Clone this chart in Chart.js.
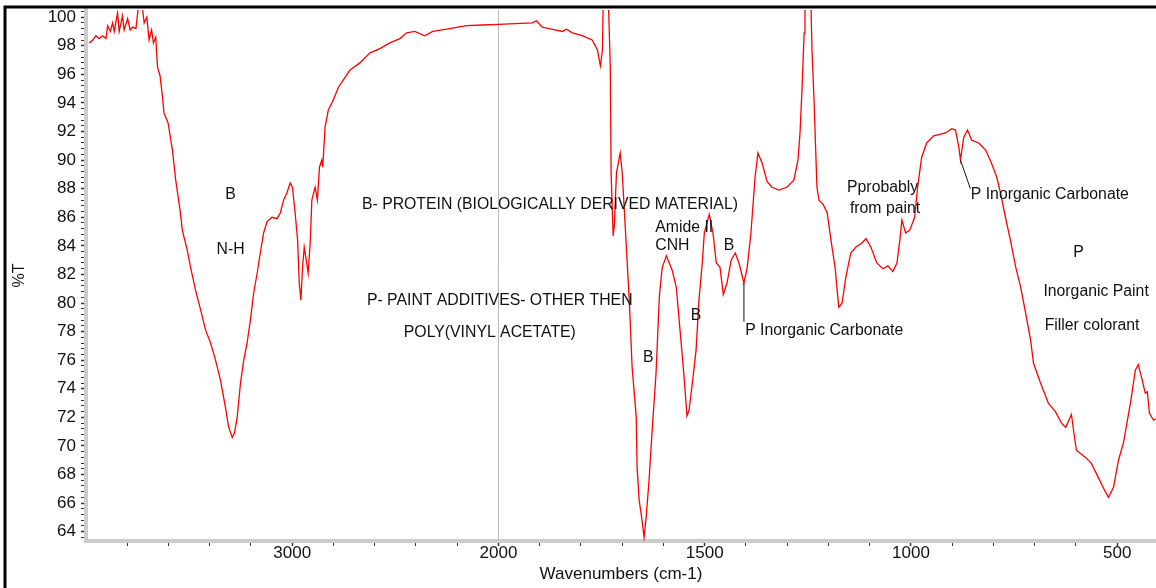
<!DOCTYPE html>
<html>
<head>
<meta charset="utf-8">
<script src="https://cdn.jsdelivr.net/npm/chart.js@4"></script>
<style>
  html, body { margin: 0; padding: 0; background: #fff; }
  #wrap { width: 1156px; height: 588px; }
</style>
</head>
<body>
<div id="wrap"><canvas id="spectrum" width="1156" height="588"></canvas></div>
<script>
// Spectrum (cm-1, %T)
const wavenumbers = [
  3984, 3967, 3952, 3936, 3919, 3903, 3895, 3882, 3871, 3863, 3847, 3839, 3823, 3815, 3798, 3786,
  3774, 3758, 3747, 3726, 3718, 3705, 3694, 3682, 3673, 3662, 3653, 3641, 3629, 3622, 3602, 3581,
  3565, 3544, 3533, 3509, 3493, 3469, 3444, 3420, 3396, 3372, 3348, 3324, 3308, 3291, 3280, 3267,
  3251, 3235, 3219, 3203, 3187, 3170, 3155, 3139, 3122, 3098, 3074, 3058, 3042, 3026, 3010, 2999,
  2986, 2974, 2966, 2958, 2950, 2942, 2932, 2923, 2913, 2905, 2889, 2878, 2868, 2857, 2852, 2841,
  2825, 2801, 2776, 2720, 2672, 2623, 2575, 2527, 2478, 2445, 2406, 2358, 2319, 2237, 2155, 2077,
  2000, 1918, 1908, 1894, 1869, 1845, 1835, 1821, 1797, 1773, 1760, 1753, 1748, 1746, 1734, 1729,
  1727, 1722, 1719, 1714, 1705, 1700, 1690, 1683, 1676, 1666, 1664, 1659, 1652, 1647, 1642, 1635,
  1627, 1618, 1610, 1603, 1593, 1579, 1569, 1562, 1552, 1543, 1538, 1530, 1521, 1514, 1506, 1501,
  1489, 1480, 1472, 1463, 1455, 1446, 1436, 1426, 1417, 1405, 1397, 1388, 1378, 1371, 1361, 1349,
  1337, 1320, 1301, 1284, 1274, 1269, 1264, 1259, 1257, 1243, 1240, 1235, 1231, 1228, 1223, 1213,
  1203, 1194, 1184, 1179, 1175, 1167, 1158, 1146, 1134, 1119, 1109, 1097, 1083, 1068, 1056, 1044,
  1034, 1027, 1022, 1013, 1003, 991, 984, 974, 962, 945, 916, 901, 892, 884, 880, 872,
  863, 853, 836, 819, 805, 792, 783, 771, 759, 746, 734, 722, 710, 703, 686, 667,
  650, 635, 625, 611, 606, 599, 577, 563, 546, 529, 521, 509, 497, 485, 468, 456,
  449, 441, 432, 427, 422, 412, 406
];
const transmittance = [
  98.2, 98.4, 98.7, 98.5, 98.7, 98.5, 99.4, 99.0, 99.6, 99.0, 100.3, 99.0, 100.1, 99.1, 99.9, 99.1,
  99.3, 99.2, 100.6, 100.6, 99.6, 100.0, 98.4, 99.1, 98.2, 98.6, 96.5, 95.9, 94.4, 93.3, 92.6, 90.7,
  88.6, 86.5, 85.1, 83.7, 82.5, 80.9, 79.5, 78.1, 77.2, 76.0, 74.6, 72.7, 71.3, 70.6, 70.9, 72.0,
  74.4, 76.0, 77.2, 78.8, 80.7, 82.1, 83.5, 84.9, 85.7, 86.0, 85.9, 86.3, 87.2, 87.7, 88.4, 88.1,
  86.3, 84.4, 81.4, 80.2, 82.5, 83.9, 83.0, 82.1, 84.2, 87.2, 88.1, 87.2, 89.5, 90.0, 89.5, 92.3,
  93.5, 94.2, 95.1, 96.3, 96.8, 97.5, 97.8, 98.2, 98.5, 98.9, 99.0, 98.7, 99.0, 99.2, 99.4, 99.45,
  99.5, 99.6, 99.75, 99.3, 99.15, 99.0, 99.15, 98.9, 98.7, 98.4, 97.7, 96.6, 97.7, 101.5, 101.5, 96.6,
  89.1, 84.7, 85.5, 89.1, 90.5, 89.1, 83.9, 80.2, 75.5, 72.0, 68.5, 66.2, 64.8, 63.6, 65.0, 67.6,
  71.3, 75.1, 80.5, 82.5, 83.3, 82.3, 81.1, 78.8, 75.5, 72.1, 72.5, 74.4, 76.7, 80.2, 82.8, 84.9,
  86.2, 84.9, 82.8, 82.5, 80.6, 81.4, 83.0, 83.5, 82.8, 81.4, 82.5, 84.9, 88.8, 90.5, 89.8, 88.5,
  88.1, 87.9, 88.1, 88.6, 90.0, 91.9, 95.1, 98.9, 101.5, 101.5, 97.7, 94.2, 90.7, 88.1, 87.2, 86.9,
  86.3, 84.4, 82.5, 80.9, 79.7, 80.0, 81.8, 83.5, 83.9, 84.2, 84.5, 83.9, 82.8, 82.4, 82.6, 82.2,
  82.8, 84.4, 85.8, 84.9, 85.1, 86.0, 88.1, 90.2, 91.2, 91.7, 91.9, 92.2, 92.1, 90.9, 90.0, 91.6,
  92.1, 91.4, 91.2, 90.7, 89.8, 88.8, 87.7, 86.0, 84.4, 82.5, 81.1, 79.3, 77.4, 75.8, 74.4, 73.0,
  72.4, 71.6, 71.3, 72.2, 71.1, 69.7, 69.2, 68.8, 67.8, 66.8, 66.4, 67.1, 69.0, 70.2, 73.0, 75.3,
  75.7, 74.8, 73.7, 73.8, 72.3, 71.8, 71.9
];

// axis ticks
const xMajorTicks = [3000, 2000, 1500, 1000, 500];
const xMinorTicks = [3800, 3600, 3400, 3200, 2800, 2600, 2400, 2200,
  1900, 1800, 1700, 1600, 1400, 1300, 1200, 1100, 900, 800, 700, 600];
const yMajorTicks = [64, 66, 68, 70, 72, 74, 76, 78, 80, 82, 84, 86, 88, 90, 92, 94, 96, 98, 100];

// the instrument plot halves the scale above 2000 cm-1
const toAxis = w => (w > 2000 ? 2000 + (w - 2000) / 2 : w);
const fromAxis = u => (u > 2000 ? 2000 + (u - 2000) * 2 : u);

const notes = [
  { text: 'B', w: 3299, t: 87.55, align: 'center' },
  { text: 'N-H', w: 3299, t: 83.7, align: 'center' },
  { text: 'B- PROTEIN (BIOLOGICALLY DERIVED MATERIAL)', w: 2662, t: 86.85, align: 'left' },
  { text: 'P- PAINT ADDITIVES- OTHER THEN', w: 2638, t: 80.2, align: 'left' },
  { text: 'POLY(VINYL ACETATE)', w: 2459, t: 77.9, align: 'left' },
  { text: 'Amide II', w: 1620, t: 85.25, align: 'left' },
  { text: 'CNH', w: 1620, t: 84.0, align: 'left' },
  { text: 'B', w: 1441, t: 84.0, align: 'center' },
  { text: 'B', w: 1521, t: 79.1, align: 'center' },
  { text: 'B', w: 1637, t: 76.2, align: 'center' },
  { text: 'P Inorganic Carbonate', w: 1402, t: 78.1, align: 'left' },
  { text: 'Pprobably', w: 1155, t: 88.1, align: 'left' },
  { text: 'from paint', w: 1148, t: 86.6, align: 'left' },
  { text: 'P Inorganic Carbonate', w: 855, t: 87.55, align: 'left' },
  { text: 'P', w: 594, t: 83.5, align: 'center' },
  { text: 'Inorganic Paint', w: 679, t: 80.8, align: 'left' },
  { text: 'Filler colorant', w: 676, t: 78.4, align: 'left' }
];
const leaders = [
  { w1: 1405, t1: 81.4, w2: 1405, t2: 78.7 },
  { w1: 880, t1: 90.0, w2: 856, t2: 88.0 }
];

const FONT = '"Liberation Sans", Arial, sans-serif';
Chart.defaults.font.family = FONT;
Chart.defaults.color = '#111';

const notesPlugin = {
  id: 'notes',
  afterDatasetsDraw(chart) {
    const { ctx, scales: { x, y } } = chart;
    ctx.save();
    ctx.fillStyle = '#111';
    ctx.font = '15.8px ' + FONT;
    ctx.textBaseline = 'middle';
    notes.forEach(n => {
      ctx.textAlign = n.align;
      ctx.fillText(n.text, x.getPixelForValue(toAxis(n.w)), y.getPixelForValue(n.t));
    });
    ctx.strokeStyle = '#111';
    ctx.lineWidth = 1;
    leaders.forEach(l => {
      ctx.beginPath();
      ctx.moveTo(x.getPixelForValue(toAxis(l.w1)), y.getPixelForValue(l.t1));
      ctx.lineTo(x.getPixelForValue(toAxis(l.w2)), y.getPixelForValue(l.t2));
      ctx.stroke();
    });
    ctx.restore();
  },
  afterDraw(chart) {
    // outer frame of the original figure
    const ctx = chart.ctx;
    ctx.save();
    ctx.strokeStyle = '#000';
    ctx.lineWidth = 3;
    ctx.beginPath();
    ctx.moveTo(5, 588);
    ctx.lineTo(5, 7);
    ctx.lineTo(1156, 7);
    ctx.stroke();
    ctx.restore();
  }
};

const points = wavenumbers.map((w, i) => ({ x: toAxis(w), y: transmittance[i] }));

const yMin = 63.35, yMax = 100.5;

new Chart(document.getElementById('spectrum'), {
  type: 'line',
  data: {
    datasets: [{
      data: points,
      borderColor: '#ff0000',
      borderWidth: 1.3,
      pointRadius: 0,
      tension: 0,
      order: 1
    }, {
      data: [{ x: 2000, y: yMin }, { x: 2000, y: yMax }],
      borderColor: '#b8b8b8',
      borderWidth: 1,
      pointRadius: 0,
      order: 2
    }]
  },
  options: {
    responsive: false,
    animation: false,
    layout: { padding: { top: 10, right: 0, left: 0, bottom: 0 } },
    plugins: { legend: { display: false }, tooltip: { enabled: false } },
    scales: {
      x: {
        type: 'linear',
        reverse: true,
        min: toAxis(406),
        max: toAxis(4000),
        afterBuildTicks: scale => {
          scale.ticks = xMajorTicks.concat(xMinorTicks).map(w => ({ value: toAxis(w) }));
        },
        afterFit: scale => {
          scale.height = 47;
          scale.paddingLeft = 0;
          scale.paddingRight = 0;
        },
        ticks: {
          autoSkip: false,
          maxRotation: 0,
          padding: -3,
          font: { size: 17 },
          callback: v => {
            const w = Math.round(fromAxis(v));
            return xMajorTicks.includes(w) ? String(w) : '';
          }
        },
        grid: {
          drawOnChartArea: false,
          tickLength: 5,
          tickColor: '#333',
          tickWidth: ctx => (xMajorTicks.includes(Math.round(fromAxis(ctx.tick.value))) ? 1.5 : 1)
        },
        border: { display: true, color: '#cccccc', width: 4 },
        title: {
          display: true,
          text: 'Wavenumbers (cm-1)',
          font: { size: 17 },
          padding: { top: 0, bottom: 3 }
        }
      },
      y: {
        min: yMin,
        max: yMax,
        afterBuildTicks: scale => {
          const t = [];
          for (let i = 0; i <= 92; i++) t.push({ value: Math.round((63.6 + i * 0.4) * 10) / 10 });
          scale.ticks = t;
        },
        afterFit: scale => {
          scale.width = 86;
          scale.paddingTop = 0;
          scale.paddingBottom = 0;
        },
        ticks: {
          autoSkip: false,
          padding: 5,
          font: { size: 17 },
          callback: v => (yMajorTicks.includes(v) ? String(v) : '')
        },
        grid: {
          drawOnChartArea: false,
          tickLength: 5,
          tickColor: '#333',
          tickWidth: ctx => (yMajorTicks.includes(ctx.tick.value) ? 1.5 : 1)
        },
        border: { display: true, color: '#cccccc', width: 4 },
        title: {
          display: true,
          text: '%T',
          font: { size: 16 },
          padding: { top: 10, bottom: 0 }
        }
      }
    }
  },
  plugins: [notesPlugin]
});
</script>
</body>
</html>
